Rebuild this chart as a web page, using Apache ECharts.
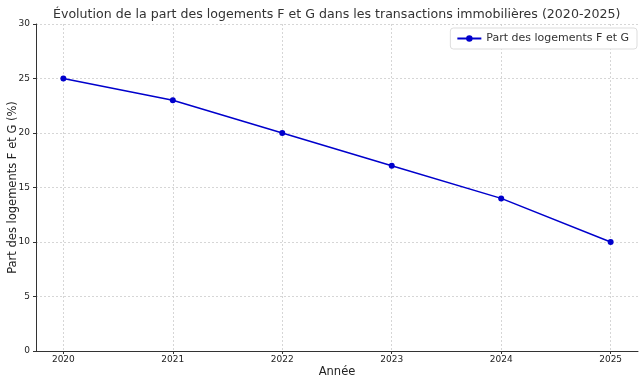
<!DOCTYPE html>
<html><head><meta charset="utf-8">
<script src="https://cdn.jsdelivr.net/npm/echarts@6/dist/echarts.min.js"></script>
<style>html,body{margin:0;padding:0;background:#fff}#c{width:644px;height:384px}</style>
</head><body><div id="c"></div>
<script>
const years = [2020, 2021, 2022, 2023, 2024, 2025];
const shareFG = [25, 23, 20, 17, 14, 10];
const seriesName = 'Part des logements F et G';
const titleText = 'Évolution de la part des logements F et G dans les transactions immobilières (2020-2025)';

const chart = echarts.init(document.getElementById('c'));
const font = 'DejaVu Sans';
chart.setOption({
  animation: false,
  textStyle: {fontFamily: font},
  title: {text: titleText, left: 48, top: 3,
    textStyle: {fontFamily: font, fontSize: 12.6, fontWeight: 'normal', color: '#333'}},
  legend: {data: [seriesName], right: 7, top: 28, orient: 'vertical',
    backgroundColor: '#fff', borderColor: '#ddd', borderWidth: 1, borderRadius: 3,
    padding: [5, 8, 5, 6], itemWidth: 24, itemHeight: 8, itemGap: 6,
    textStyle: {fontFamily: font, fontSize: 11, color: '#333'}},
  grid: {left: 36, right: 6, top: 24, bottom: 33, outerBoundsMode: 'none', containLabel: false},
  xAxis: {type: 'value', min: 2019.75, max: 2025.25,
    name: 'Année', nameLocation: 'middle', nameGap: 15, nameMoveOverlap: false,
    nameTextStyle: {fontFamily: font, fontSize: 11.5, color: '#222'},
    axisLine: {show: true, lineStyle: {color: '#333', width: 1}},
    axisTick: {show: true, length: 3, lineStyle: {color: '#333'}, customValues: years},
    axisLabel: {fontSize: 9, color: '#222', margin: 4, customValues: years,
      formatter: v => String(v)},
    splitLine: {show: true, lineStyle: {color: '#ccc', type: [2, 2], width: 0.8}}},
  yAxis: {type: 'value', min: 0, max: 30, interval: 5,
    name: 'Part des logements F et G (%)', nameLocation: 'middle', nameGap: 17, nameMoveOverlap: false,
    nameTextStyle: {fontFamily: font, fontSize: 11.5, color: '#222'},
    axisLine: {show: true, lineStyle: {color: '#333', width: 1}},
    axisTick: {show: true, length: 3, lineStyle: {color: '#333'}},
    axisLabel: {fontSize: 9, color: '#222', margin: 6},
    splitLine: {show: true, lineStyle: {color: '#ccc', type: [2, 2], width: 0.8}}},
  series: [{name: seriesName, type: 'line',
    data: years.map((y, i) => [y, shareFG[i]]),
    symbol: 'circle', symbolSize: 6,
    lineStyle: {color: '#0000cc', width: 1.5},
    itemStyle: {color: '#0000cc'}}]
});
</script></body></html>
